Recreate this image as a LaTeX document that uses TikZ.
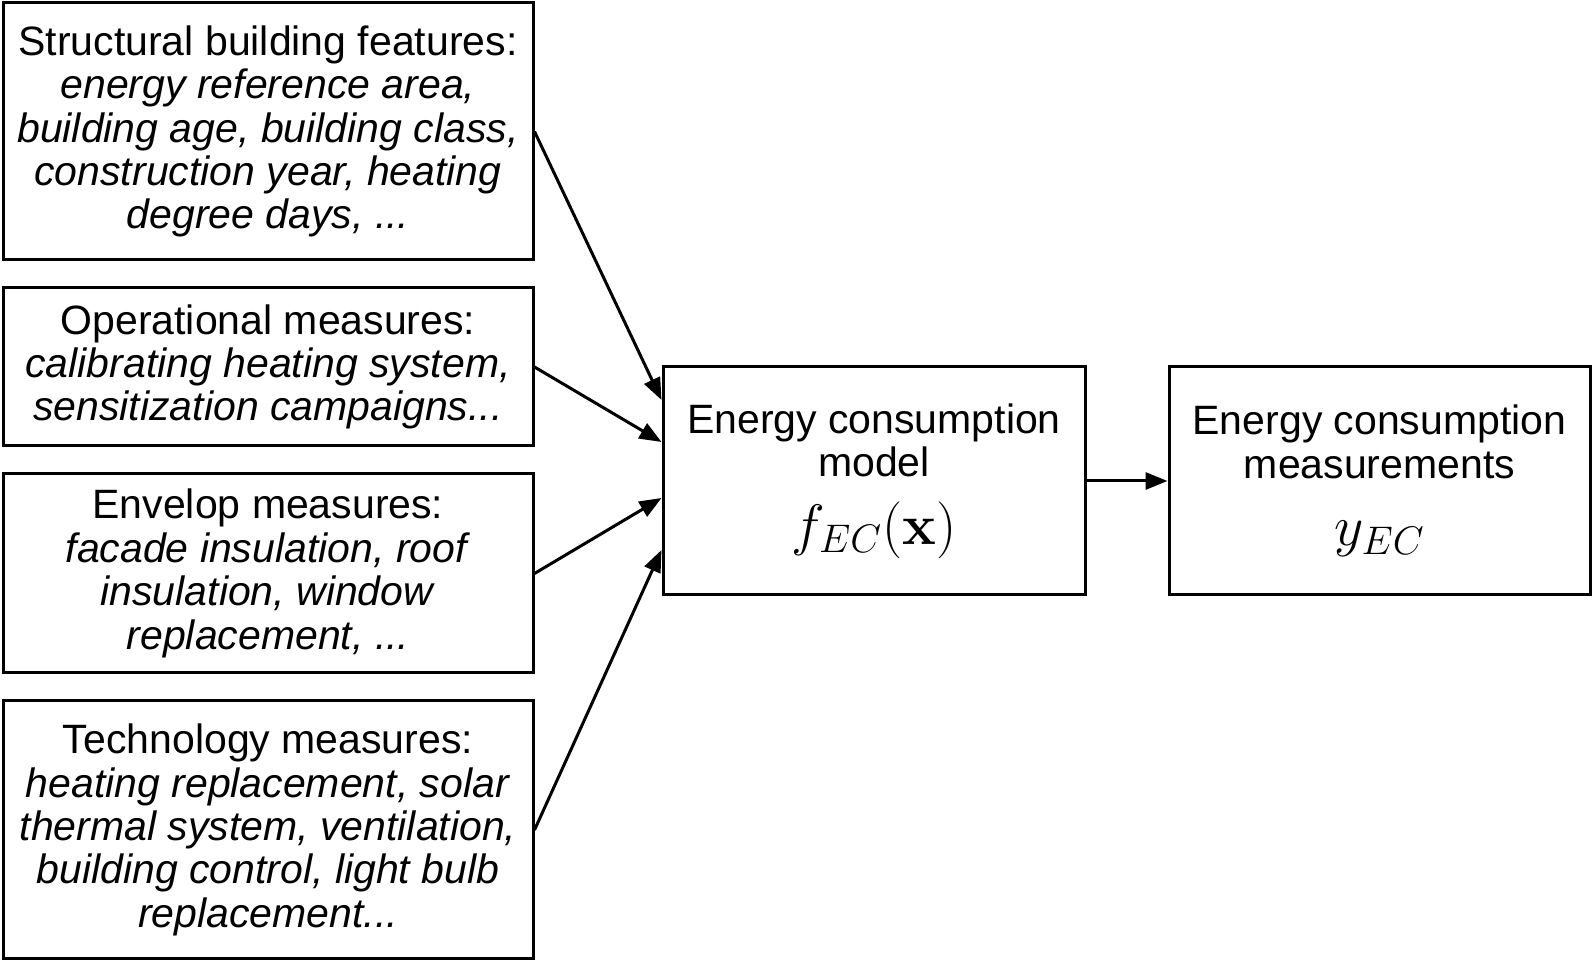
\RequirePackage{fix-cm}
\documentclass[tikz,border=0pt]{standalone}
\usepackage{amsmath}
\usepackage[no-math]{fontspec}
\setmainfont{Liberation Sans}
\usetikzlibrary{arrows.meta}

\begin{document}
\begin{tikzpicture}[x=0.5pt, y=-0.5pt,
    inbox/.style={draw, line width=1.5pt, minimum width=265pt, inner sep=0pt, align=center, font=\fontsize{20.5}{21.7}\selectfont},
    outbox/.style={draw, line width=1.5pt, minimum height=114pt, inner sep=0pt, align=center, font=\fontsize{20.5}{21.7}\selectfont},
    arr/.style={line width=1.5pt, -{Triangle[length=11pt, width=8.5pt]}}]
          \useasboundingbox (0,0) rectangle (1592,961);
          \node[inbox, minimum height=128.5pt] (feat) at (268,131.5) {Structural building features:\\ \textit{energy reference area,}\\ \textit{building age, building class,}\\ \textit{construction year, heating}\\ \textit{degree days, ...}};
          \node[inbox, minimum height=79pt] (oper) at (268,367) {Operational measures:\\ \textit{calibrating heating system,}\\ \textit{sensitization campaigns...}};
          \node[inbox, minimum height=99.5pt] (env) at (268,573.5) {Envelop measures:\\ \textit{facade insulation, roof}\\ \textit{insulation, window}\\ \textit{replacement, ...}};
          \node[inbox, minimum height=129pt] (tech) at (268,830) {Technology measures:\\ \textit{heating replacement, solar}\\ \textit{thermal system, ventilation,}\\ \textit{building control, light bulb}\\ \textit{replacement...}};
          \node[outbox, minimum width=211pt] (model) at (874,481) {Energy consumption\\ model\\[12pt] {\fontsize{28.5}{30}\selectfont $f_{EC}(\mathbf{x})$}};
          \node[outbox, minimum width=210.5pt] (meas) at (1379.5,481) {Energy consumption\\ measurements\\[12pt] {\fontsize{28.5}{30}\selectfont $y_{EC}$}};
          \draw[arr] (feat.east) -- ([yshift=40.5pt]model.west);
          \draw[arr] (oper.east) -- ([yshift=19.5pt]model.west);
          \draw[arr] (env.east) -- ([yshift=-8.5pt]model.west);
          \draw[arr] (tech.east) -- ([yshift=-34.5pt]model.west);
          \draw[arr] (model) -- (meas);
        \end{tikzpicture}
\end{document}
